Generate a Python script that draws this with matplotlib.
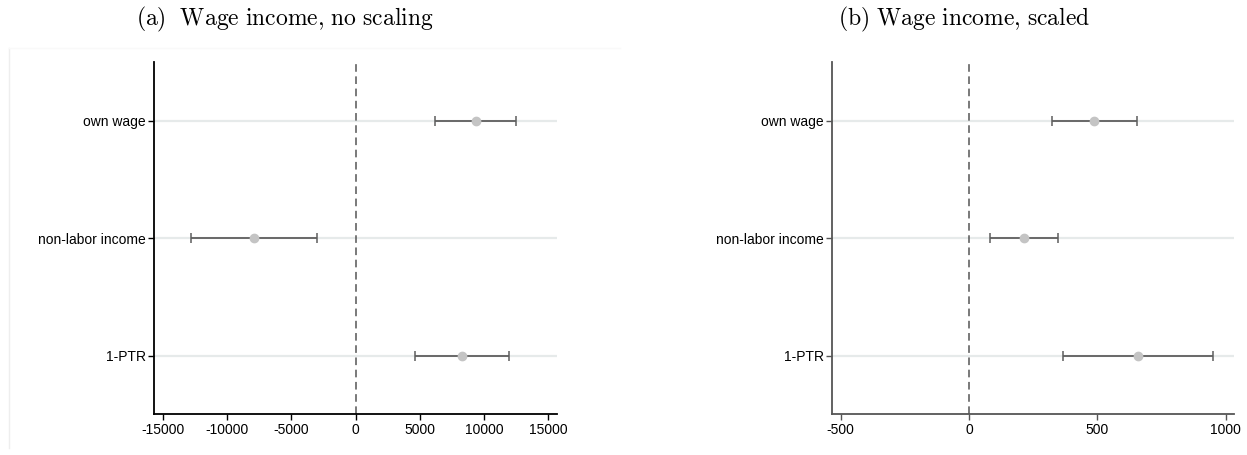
import numpy as np
import matplotlib
import matplotlib.pyplot as plt
from matplotlib.lines import Line2D

matplotlib.use('Agg')
plt.rcParams['font.family'] = ['Liberation Sans', 'DejaVu Sans']
plt.rcParams['mathtext.fontset'] = 'cm'

# coefficient estimates with 95% CI
categories = ['own wage', 'non-labor income', '1-PTR']

est_a = [9330, -7915, 8300]
lo_a = [6170, -12840, 4650]
hi_a = [12500, -2990, 11950]

est_b = [487, 214, 658]
lo_b = [322, 82, 367]
hi_b = [656, 348, 950]

ticks_a = [-15000, -10000, -5000, 0, 5000, 10000, 15000]
ticks_b = [-500, 0, 500, 1000]

titles = [r'$\mathrm{(a)\ \ Wage\ income{,}\ no\ scaling}$',
          r'$\mathrm{(b)\ Wage\ income{,}\ scaled}$']


def coef_panel(ax, est, lo, hi, ticks, xlim, spine_color):
    est = np.array(est)
    y = np.arange(1, len(categories) + 1)
    xerr = np.vstack([est - np.array(lo), np.array(hi) - est])

    for yy in y:
        ax.axhline(yy, color='#e6eaea', lw=1.6, zorder=0)
    ax.axvline(0, color='#555555', lw=1.1, dashes=(5, 3), zorder=1)

    ax.errorbar(est, y, xerr=xerr, fmt='none', ecolor='#5e5e5e',
                elinewidth=1.3, capsize=3.5, capthick=1.1, zorder=2)
    ax.plot(est, y, 'o', color='#c4c4c4', markersize=6, zorder=3)

    ax.set_ylim(3.5, 0.5)
    ax.set_xlim(*xlim)
    ax.set_yticks(y)
    ax.set_yticklabels(categories)
    ax.set_xticks(ticks)
    ax.set_xticklabels([str(t) for t in ticks])

    for side in ['top', 'right']:
        ax.spines[side].set_visible(False)
    for side in ['left', 'bottom']:
        ax.spines[side].set_color(spine_color)
        ax.spines[side].set_linewidth(1.3)
    ax.tick_params(axis='both', labelsize=10, length=4, width=1,
                   color=spine_color, pad=2)


fig = plt.figure(figsize=(12.47, 4.55), dpi=100)
ax1 = fig.add_axes([0.1237, 0.0894, 0.3227, 0.7743])
ax2 = fig.add_axes([0.6672, 0.0894, 0.3226, 0.7743])

coef_panel(ax1, est_a, lo_a, hi_a, ticks_a, (-15670, 15640), '#000000')
coef_panel(ax2, est_b, lo_b, hi_b, ticks_b, (-534, 1033), '#555555')

# faint frame of the left graph region
fig.add_artist(Line2D([9 / 1247, 9 / 1247], [1 - 448 / 455, 1 - 48 / 455],
                      transform=fig.transFigure, color='#eeeeee', lw=1))
fig.add_artist(Line2D([9 / 1247, 620 / 1247], [1 - 48 / 455, 1 - 48 / 455],
                      transform=fig.transFigure, color='#f9f9f9', lw=1))

fig.text(285 / 1247, 1 - 19 / 455, titles[0], ha='center', va='center', fontsize=17)
fig.text(964 / 1247, 1 - 19 / 455, titles[1], ha='center', va='center', fontsize=17)

fig.savefig('out.png', dpi=100)
